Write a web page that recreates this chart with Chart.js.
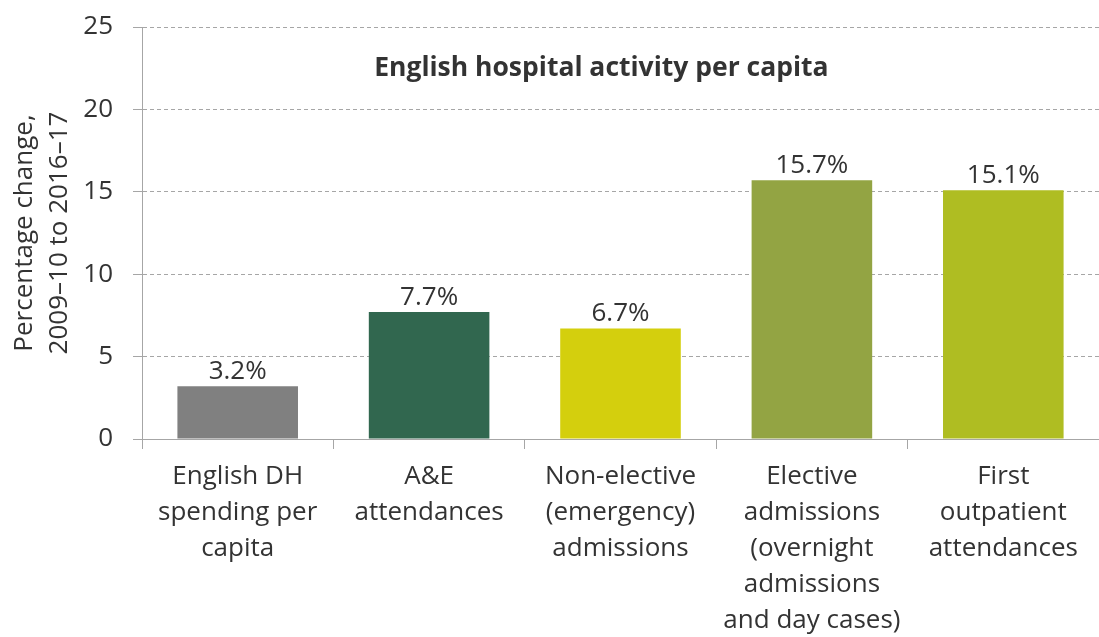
<!DOCTYPE html>
<html>
<head>
<meta charset="utf-8">
<script src="https://cdn.jsdelivr.net/npm/chart.js@4"></script>
<style>
html,body{margin:0;padding:0;background:#fff;}
#wrap{width:1099px;height:637px;position:relative;}
</style>
</head>
<body>
<div id="wrap"><canvas id="c"></canvas></div>
<script>
const categories = [
  ["English DH", "spending per", "capita"],
  ["A&E", "attendances"],
  ["Non-elective", "(emergency)", "admissions"],
  ["Elective", "admissions", "(overnight", "admissions", "and day cases)"],
  ["First", "outpatient", "attendances"]
];
const values = [3.2, 7.7, 6.7, 15.7, 15.1];
const valueLabels = ["3.2%", "7.7%", "6.7%", "15.7%", "15.1%"];
const barColors = ["#808080", "#31674f", "#d4cf0d", "#93a443", "#afbd22"];
const chartTitle = "English hospital activity per capita";
const yTitle = ["Percentage change,", "2009\u201310 to 2016\u201317"];

const FONT = "'Open Sans', 'Noto Sans', sans-serif";
const TEXT = "#333333";

const overlay = {
  id: 'overlay',
  afterDatasetsDraw(chart) {
    const ctx = chart.ctx;
    const meta = chart.getDatasetMeta(0);
    ctx.save();
    ctx.fillStyle = TEXT;
    ctx.font = "26px " + FONT;
    ctx.textAlign = "center";
    ctx.textBaseline = "bottom";
    meta.data.forEach((bar, i) => {
      ctx.fillText(valueLabels[i], bar.x, bar.y - 2);
    });
    const ca = chart.chartArea;
    ctx.font = "bold 26.5px " + FONT;
    ctx.textBaseline = "middle";
    ctx.fillText(chartTitle, ca.left + (ca.right - ca.left) * 0.48, ca.top + 41);
    ctx.restore();
  }
};

new Chart(document.getElementById('c'), {
  type: 'bar',
  data: {
    labels: categories,
    datasets: [{
      data: values,
      backgroundColor: barColors,
      barPercentage: 0.63,
      categoryPercentage: 1.0
    }]
  },
  options: {
    responsive: true,
    maintainAspectRatio: false,
    animation: false,
    layout: { padding: { top: 27, left: 7, right: 0, bottom: 0 } },
    plugins: { legend: { display: false }, tooltip: { enabled: false } },
    scales: {
      x: {
        afterFit(scale) { scale.height = 198; scale.paddingLeft = 0; scale.paddingRight = 0; },
        grid: {
          offset: true,
          drawOnChartArea: false,
          drawTicks: true,
          tickLength: 10,
          color: "#a6a6a6",
          lineWidth: 1
        },
        border: { color: "#a6a6a6", width: 1 },
        ticks: {
          color: TEXT,
          font: { family: FONT, size: 26, lineHeight: 1.385 },
          padding: 10,
          maxRotation: 0,
          autoSkip: false
        }
      },
      y: {
        afterFit(scale) { scale.width = 135; scale.paddingTop = 0; scale.paddingBottom = 0; },
        min: 0,
        max: 25,
        ticks: {
          stepSize: 5,
          color: TEXT,
          font: { family: FONT, size: 26 },
          padding: 20
        },
        grid: {
          color: "#a6a6a6",
          lineWidth: 1,
          tickLength: 9,
          tickBorderDash: [],
          tickColor: "#a6a6a6"
        },
        border: { color: "#a6a6a6", width: 1, dash: [4, 3] },
        title: {
          display: true,
          text: yTitle,
          color: TEXT,
          font: { family: FONT, size: 26, lineHeight: 1.35 },
          padding: { top: 0, bottom: 6 }
        }
      }
    }
  },
  plugins: [overlay]
});
</script>
</body>
</html>
